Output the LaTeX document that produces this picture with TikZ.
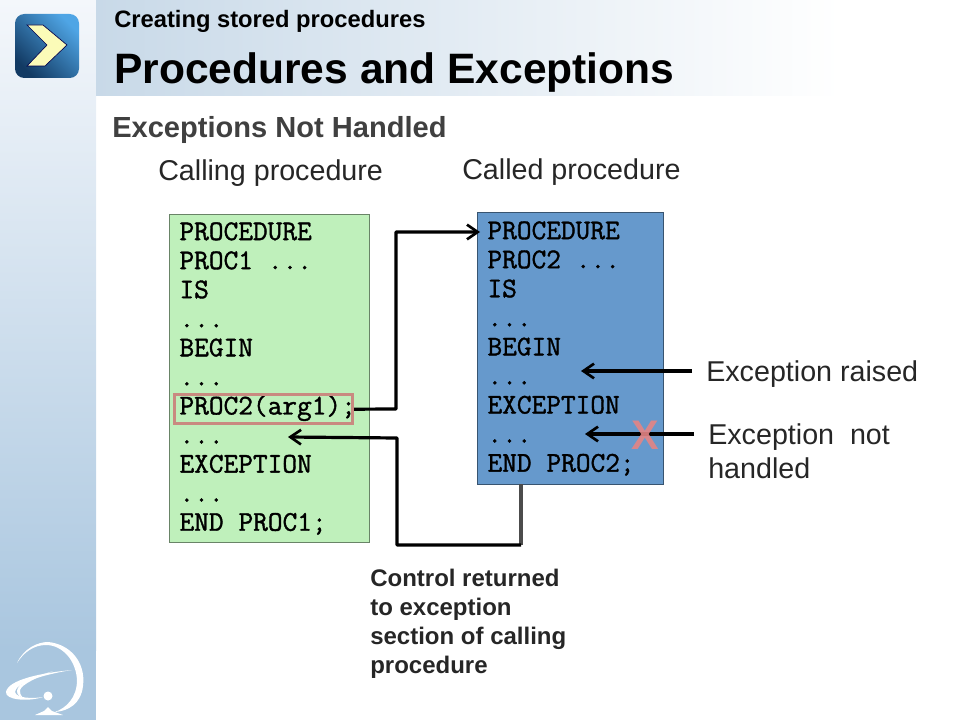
\documentclass[tikz,border=0pt]{standalone}
\usepackage{fontspec}
\setmainfont{Liberation Sans}
\newfontfamily\codefont[FakeBold=1.3]{Latin Modern Mono}
\newcommand{\codegap}{\kern 11.2pt\relax}
\usetikzlibrary{arrows.meta}
\definecolor{sideTop}{HTML}{F4F7FB}
\definecolor{sideBot}{HTML}{A9C6DF}
\definecolor{bandL}{HTML}{C8D9E8}
\definecolor{codeGreen}{HTML}{BFF0BB}
\definecolor{codeBlue}{HTML}{6699CC}
\definecolor{hiBox}{HTML}{C98A80}
\definecolor{subHead}{HTML}{404040}
\definecolor{chev}{HTML}{FBFBB8}
\definecolor{iconA}{HTML}{4FA5E5}
\definecolor{iconB}{HTML}{123A63}
\definecolor{xRed}{HTML}{E48585}
\tikzset{
  codebox/.style={draw=#1!55!black,line width=0.75pt,fill=#1,anchor=north west,inner ysep=0pt,inner xsep=7.5pt,
     align=left,font=\codefont\fontsize{21.4}{21.8}\selectfont},
  lab/.style={anchor=base west,inner sep=0pt,font=\fontsize{21.5}{25.5}\selectfont,text=black!85},
  flow/.style={line width=2.4pt,black,rounded corners=0.5pt,-{Straight Barb[length=8pt,width=11pt,line width=2pt]}},
  flowplain/.style={line width=2.6pt,black!70,rounded corners=0.5pt}
}
\begin{document}
\begin{tikzpicture}[x=0.75pt,y=-0.75pt]
\useasboundingbox (0,0) rectangle (960,720);
% backgrounds
\shade[top color=sideTop,bottom color=sideBot] (0,0) rectangle (96,650);
\fill[sideBot] (0,649.5) rectangle (96,720);
\shade[left color=bandL,right color=white] (96,0) rectangle (840,96);
% icon
\shade[rounded corners=7pt,left color=iconA,right color=iconB,shading angle=-45] (15,14) rectangle (79,78);
\fill[chev,draw=black!70!blue,line width=0.5pt] (27,25) -- (43,25) -- (67,45) -- (45,66) -- (27,66) -- (47,45) -- cycle;
% logo
\fill[white] (72,670) .. controls (40,673) and (8,680) .. (6,692) .. controls (5,700) and (28,702) .. (43,697) .. controls (32,699) and (16,698) .. (15,692) .. controls (15,684) and (40,675) .. (72,670) -- cycle;
\fill[white] (53,671) .. controls (35,677) and (17,683) .. (17,691) .. controls (17,695) and (20,697) .. (23,698) .. controls (21,695) and (19,693) .. (20,690) .. controls (22,684) and (38,677) .. (53,671) -- cycle;
\fill[white] (17,663) .. controls (24,648) and (38,642) .. (48,642) .. controls (70,644) and (86,662) .. (83,686) .. controls (81,704) and (68,711) .. (55,712) .. controls (66,708) and (77,698) .. (77,680) .. controls (76,660) and (62,645) .. (46,645) .. controls (34,645) and (24,652) .. (17,663) -- cycle;
\fill[white] (48,696) circle (4.5);
\fill[white] (35,715) -- (44,711) -- (48,707) -- (52,711) -- (63,715) -- cycle;
% titles
\node[anchor=base west,inner sep=0pt,font=\bfseries\fontsize{17.8}{20}\selectfont] (sup) at (114,28) {Creating stored procedures};
\node[anchor=base west,inner sep=0pt,font=\bfseries\fontsize{31.9}{36}\selectfont] (ttl) at (114,84) {Procedures and Exceptions};
\node[anchor=base west,inner sep=0pt,font=\bfseries\fontsize{21.8}{24}\selectfont,text=subHead] (sub) at (112,138) {Exceptions Not Handled};
\node[lab] (lcall) at (158,181) {Calling procedure};
\node[lab] (lcalled) at (462,179.5) {Called procedure};
% code boxes
\node[codebox=codeGreen,minimum width=150pt,minimum height=246pt,text width=135pt] (proc1) at (169,214) {PROCEDURE\\PROC1\codegap...\\IS\\...\\BEGIN\\...\\PROC2(arg1);\\...\\EXCEPTION\\...\\END\codegap PROC1;};
\node[codebox=codeBlue,minimum width=139.5pt,minimum height=204pt,text width=124.5pt] (proc2) at (477,212) {PROCEDURE\\PROC2\codegap...\\IS\\...\\BEGIN\\...\\EXCEPTION\\...\\END\codegap PROC2;};
\node[draw=hiBox,line width=2.3pt,minimum width=134pt,minimum height=22pt,inner sep=0pt,anchor=north west] (hi) at (172.5,393) {};
% coordinates
\coordinate (callTgt) at (480,232);
\coordinate (retTgt) at (288,437);
\coordinate (raisedTgt) at (581,371);
\coordinate (nothTgt) at (585,434);
\coordinate (raisedFrom) at (692,371);
\coordinate (nothFrom) at (694,434);
\coordinate (retDrop) at (521,545);
\coordinate (retOut) at (521,484);
% labels
\node[lab] (raised) at (706,381) {Exception raised};
\node[lab,align=left,anchor=north west] (noth) at (708,423) {Exception\ \ not\\handled};
\node[inner sep=0pt,align=left,font=\bfseries\fontsize{18}{21.75}\selectfont,text=black!85,anchor=north west] (ctl) at (370,569) {Control returned\\to exception\\section of calling\\procedure};
% connectors
\draw[flow] (hi.east) -- (396,409) -- (396,232) -- (callTgt);
\draw[flowplain] (retOut) -- (retDrop);
\draw[flow] (retDrop) -- (397,545) -- (397,438) -- (retTgt);
\draw[flow] (raisedFrom) -- (raisedTgt);
\draw[flow] (nothFrom) -- (nothTgt);
\node[font=\bfseries\fontsize{31}{36}\selectfont,text=xRed,opacity=0.9,inner sep=0pt] (xmark) at (645,435) {X};
\end{tikzpicture}
\end{document}
